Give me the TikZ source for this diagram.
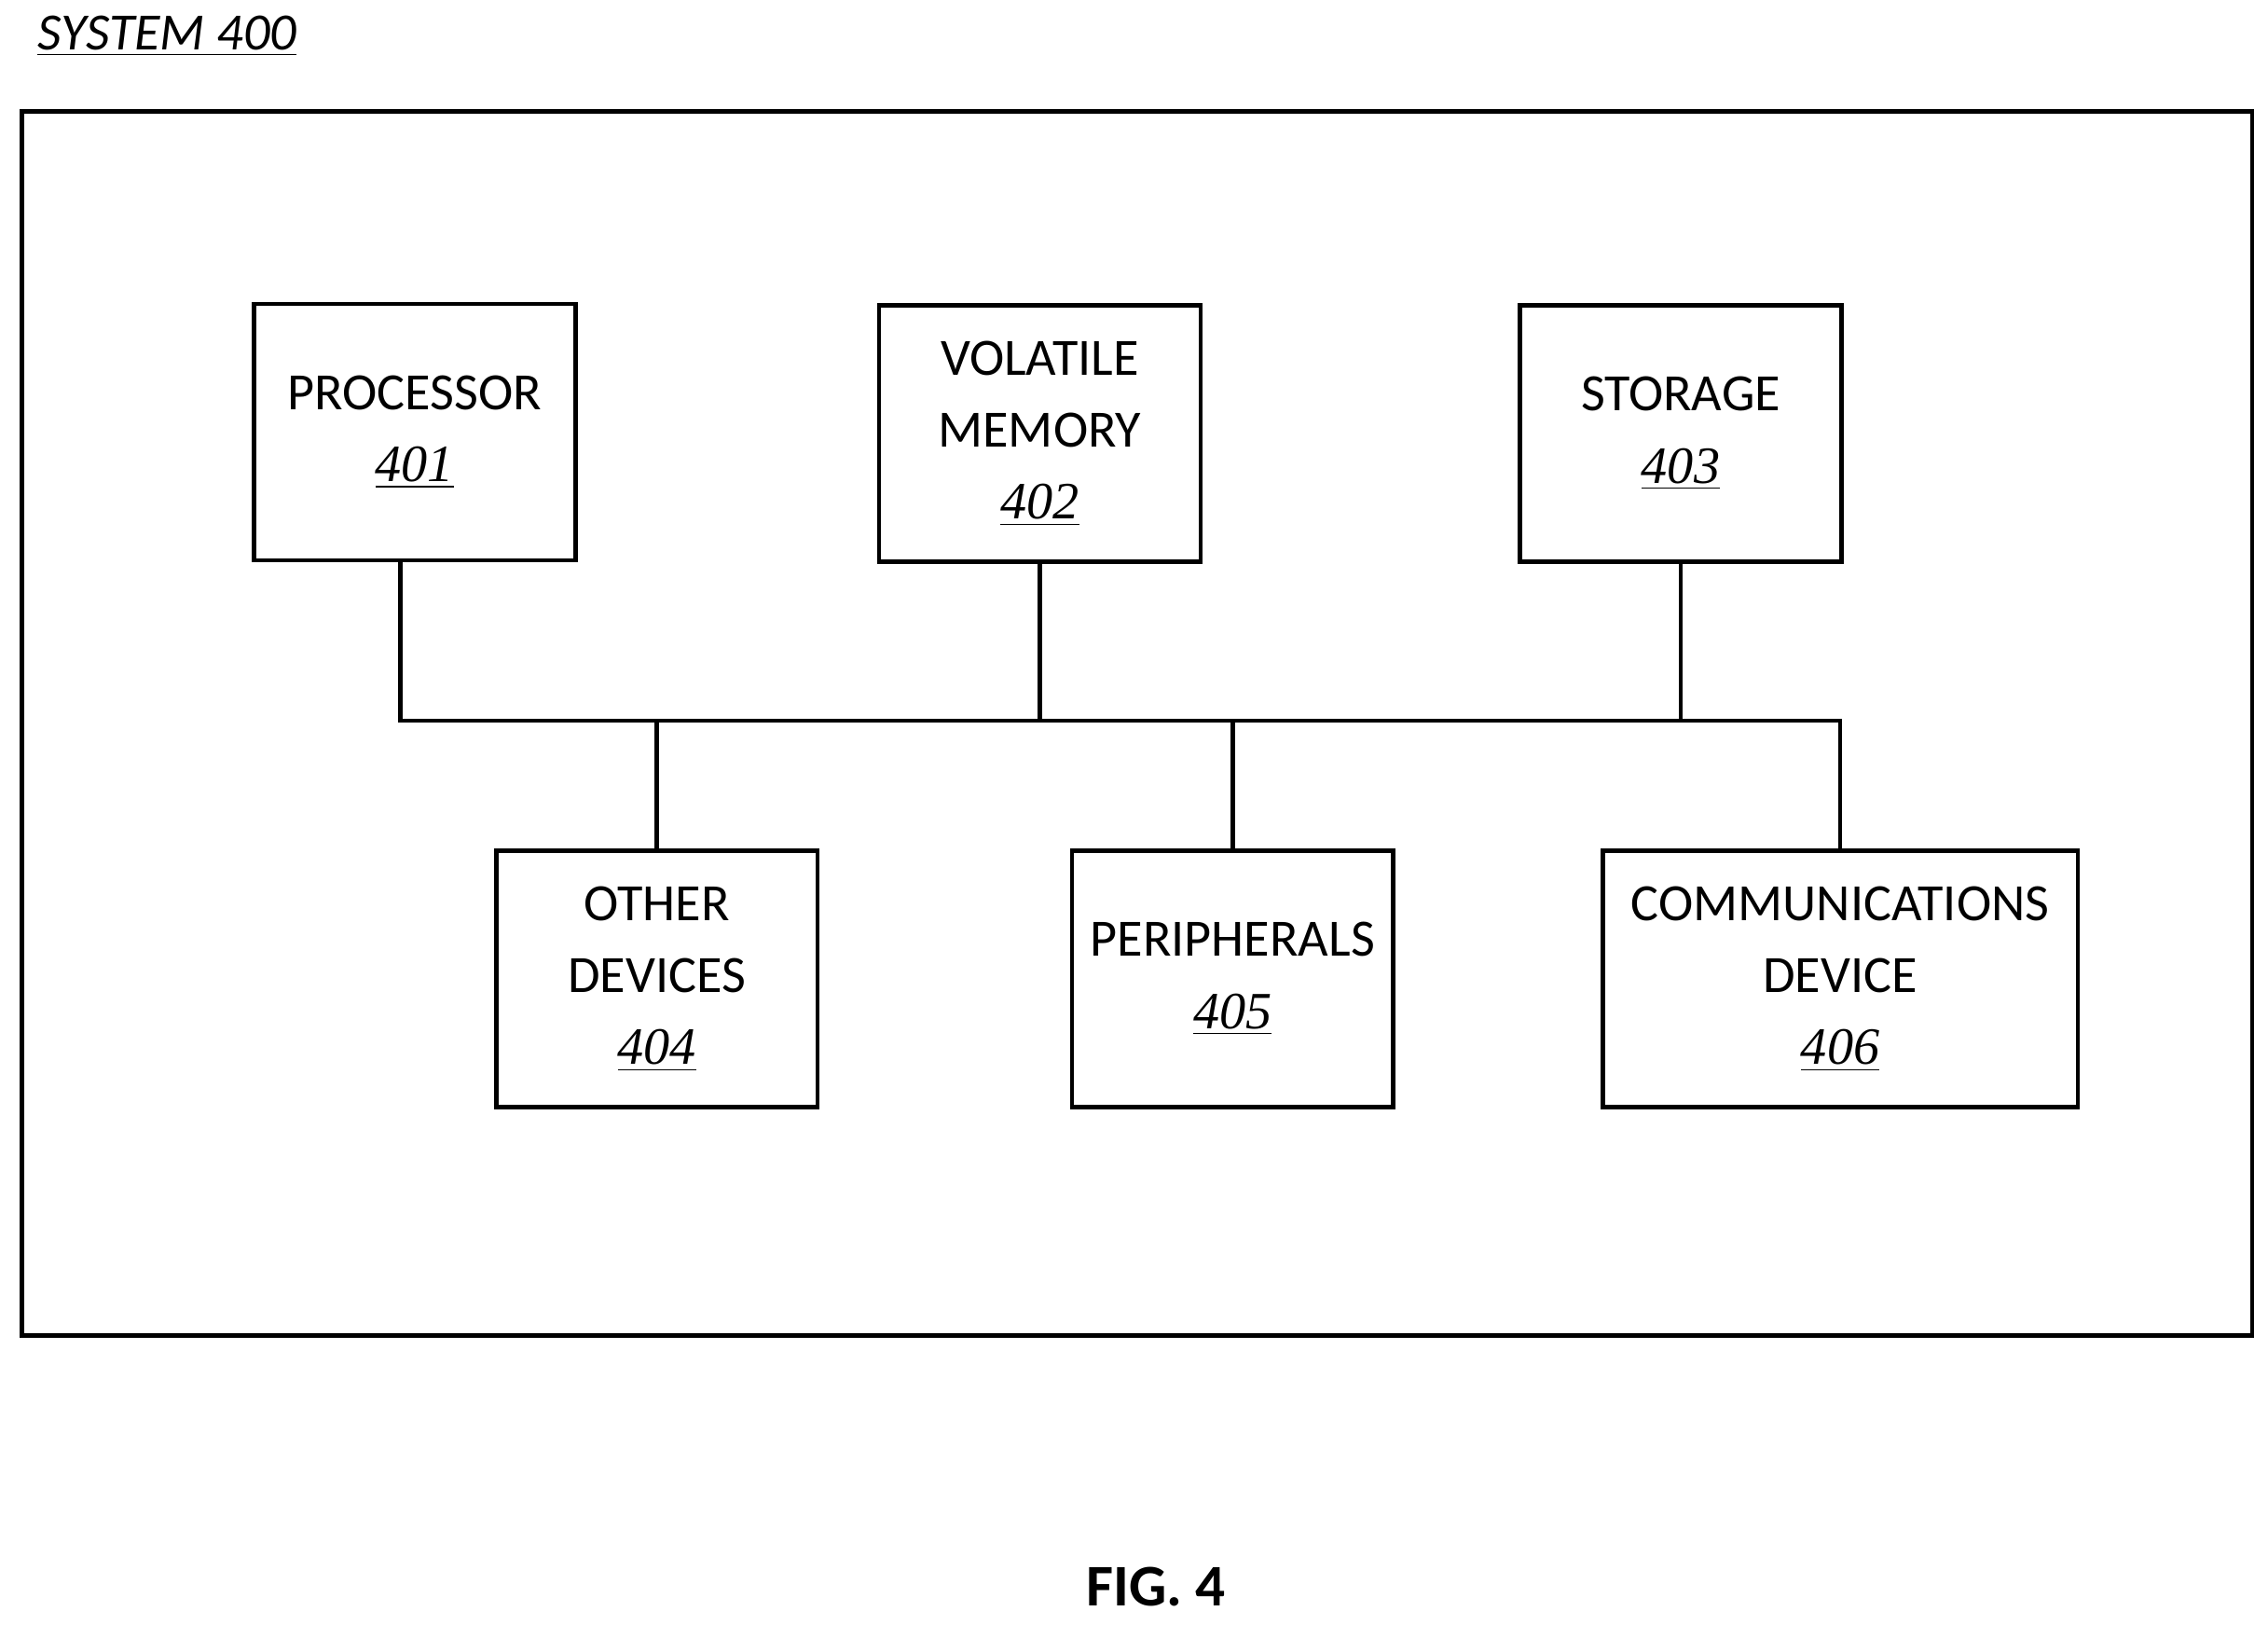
\documentclass[tikz,border=0pt]{standalone}
\usepackage{fontspec}
\setmainfont{Carlito}
\newfontfamily\refnum{Liberation Serif}
\usetikzlibrary{positioning}
\tikzset{
  unit/.style={draw, line width=1.3pt, align=center, minimum width=3.45cm,
    minimum height=2.75cm, font=\fontsize{16}{22}\selectfont, inner sep=2pt},
  bus/.style={line width=1.3pt}
}
\newcommand{\refno}[1]{{\refnum\itshape\underline{#1}}}
\begin{document}
\begin{tikzpicture}[x=0.01556cm, y=-0.01556cm]
        \useasboundingbox (0,0) rectangle (1564,1120);
        \node [anchor=west, font=\fontsize{16}{20}\selectfont\itshape] (title) at (18,25) {\underline{SYSTEM 400}};
        \draw [bus] (15,77) rectangle (1553,921);
        \node [unit] (proc) at (286,298) {PROCESSOR\\\refno{401}};
        \node [unit] (vmem) at (717,299) {VOLATILE\\MEMORY\\\refno{402}};
        \node [unit] (stor) at (1159,299) {STORAGE\\\refno{403}};
        \node [unit] (odev) at (453,675) {OTHER\\DEVICES\\\refno{404}};
        \node [unit] (peri) at (850,675) {PERIPHERALS\\\refno{405}};
        \node [unit, minimum width=5.1cm] (comm) at (1269,675) {COMMUNICATIONS\\DEVICE\\\refno{406}};
        \coordinate (busL) at (276,497);
        \coordinate (busR) at (1269,497);
        \draw [bus] (proc.south -| busL) -- (busL) -- (busR) -- (comm.north);
        \draw [bus] (vmem.south) -- (vmem.south |- busL);
        \draw [bus] (stor.south) -- (stor.south |- busL);
        \draw [bus] (odev.north) -- (odev.north |- busL);
        \draw [bus] (peri.north) -- (peri.north |- busL);
        \node [font=\fontsize{18}{22}\selectfont\bfseries] (fig) at (797,1094) {FIG. 4};
\end{tikzpicture}
\end{document}
